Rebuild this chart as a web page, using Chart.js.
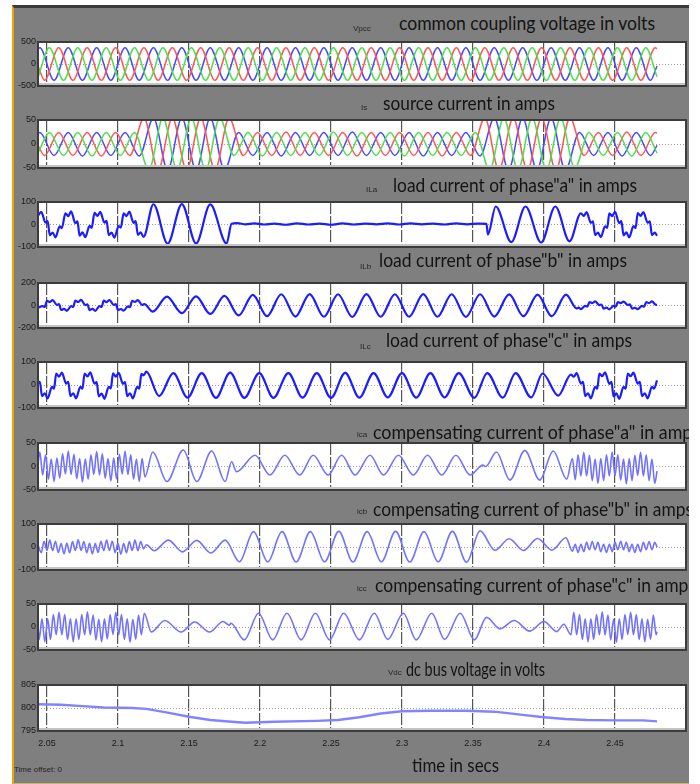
<!DOCTYPE html>
<html><head><meta charset="utf-8">
<script src="https://cdn.jsdelivr.net/npm/chart.js@4.4.0/dist/chart.umd.min.js"></script>
<style>
html,body{margin:0;padding:0;background:#fff;}
#stage{position:relative;width:700px;height:784px;overflow:hidden;background:#fff;}
#panel{position:absolute;left:12px;top:5px;width:677px;height:779px;background:#7f7f7f;border-left:2px solid #e9a900;border-top:3px solid #3b3b3b;border-bottom:1px solid #c9b36a;box-sizing:border-box;}
#clip{position:absolute;left:0;top:0;width:689px;height:784px;overflow:hidden;}
canvas{position:absolute;left:0;}
.ttl{position:absolute;white-space:nowrap;font-family:Lato,'Open Sans',sans-serif;font-size:20px;color:#141414;transform-origin:0 0;line-height:24px;}
.sml{position:absolute;white-space:nowrap;font-family:'Liberation Sans Narrow','Liberation Sans',sans-serif;font-size:8px;color:#262626;line-height:10px;}
</style></head>
<body>
<div id="stage"><div id="panel"></div><div id="clip"></div></div>
<script>
// ---- axis data (time in ms after 2 s) ----
const X_MIN = 43.7, X_MAX = 500;
const xTickPos = [50,100,150,200,250,300,350,400,450];
const xTickLabels = ['2.05','2.1','2.15','2.2','2.25','2.3','2.35','2.4','2.45'];
const yTicksVpcc = [-500,0,500];
const yTicksIs = [-50,0,50];
const yTicksILa = [-100,0,100];
const yTicksILb = [-200,0,200];
const yTicksILc = [-100,0,100];
const yTicksIca = [-50,0,50];
const yTicksIcb = [-100,0,100];
const yTicksIcc = [-50,0,50];
const yTicksVdc = [795,800,805];

// ---- series: flat [t(ms), value, ...] read at the extremes of each wave ----
const vpccA = [43.7,340, 45,372, 55,-368, 65,370, 75,-370, 85,372, 95,-368, 105,370, 115,-370, 125,368, 135,-372, 145,370, 155,-370, 165,372, 175,-368, 185,370, 195,-370, 205,368, 215,-372, 225,370, 235,-370, 245,372, 255,-368, 265,370, 275,-370, 285,370, 295,-372, 305,368, 315,-370, 325,370, 335,-370, 345,372, 355,-368, 365,370, 375,-370, 385,368, 395,-372, 405,370, 415,-370, 425,372, 435,-368, 445,370, 455,-370, 465,370, 475,-372, 479.6,-45];
const vpccB = [43.7,-300, 51.7,370, 61.7,-370, 71.7,372, 81.7,-368, 91.7,370, 101.7,-370, 111.7,368, 121.7,-372, 131.7,370, 141.7,-370, 151.7,372, 161.7,-368, 171.7,370, 181.7,-370, 191.7,368, 201.7,-372, 211.7,370, 221.7,-370, 231.7,372, 241.7,-368, 251.7,370, 261.7,-370, 271.7,370, 281.7,-372, 291.7,368, 301.7,-370, 311.7,370, 321.7,-370, 331.7,372, 341.7,-368, 351.7,370, 361.7,-370, 371.7,368, 381.7,-372, 391.7,370, 401.7,-370, 411.7,372, 421.7,-368, 431.7,370, 441.7,-370, 451.7,370, 461.7,-372, 471.7,368, 479.6,-290];
const vpccC = [43.7,-45, 48.3,-370, 58.3,370, 68.3,-372, 78.3,368, 88.3,-370, 98.3,370, 108.3,-370, 118.3,372, 128.3,-368, 138.3,370, 148.3,-370, 158.3,368, 168.3,-372, 178.3,370, 188.3,-370, 198.3,372, 208.3,-368, 218.3,370, 228.3,-370, 238.3,370, 248.3,-372, 258.3,368, 268.3,-370, 278.3,370, 288.3,-370, 298.3,372, 308.3,-368, 318.3,370, 328.3,-370, 338.3,368, 348.3,-372, 358.3,370, 368.3,-370, 378.3,372, 388.3,-368, 398.3,370, 408.3,-370, 418.3,370, 428.3,-372, 438.3,368, 448.3,-370, 458.3,370, 468.3,-370, 478.3,372, 479.6,345];

const isA = [43.7,22, 45,24, 55,-24, 65,24, 75,-25, 85,24, 95,-24, 105,24, 115,-25, 125,54, 135,-54, 145,54, 155,-54, 165,54, 175,-54, 185,24, 195,-24, 205,24, 215,-25, 225,24, 235,-24, 245,24, 255,-24, 265,25, 275,-24, 285,24, 295,-24, 305,24, 315,-25, 325,24, 335,-24, 345,24, 355,-25, 365,54, 375,-54, 385,54, 395,-54, 405,54, 415,-54, 425,24, 435,-24, 445,24, 455,-25, 465,24, 475,-24, 479.6,-3];
const isB = [43.7,-19, 51.7,24, 61.7,-24, 71.7,24, 81.7,-25, 91.7,24, 101.7,-24, 111.7,24, 121.7,-54, 131.7,54, 141.7,-54, 151.7,54, 161.7,-54, 171.7,54, 181.7,-24, 191.7,24, 201.7,-25, 211.7,24, 221.7,-24, 231.7,24, 241.7,-24, 251.7,25, 261.7,-24, 271.7,24, 281.7,-24, 291.7,24, 301.7,-25, 311.7,24, 321.7,-24, 331.7,24, 341.7,-24, 351.7,24, 361.7,-54, 371.7,54, 381.7,-54, 391.7,54, 401.7,-54, 411.7,54, 421.7,-50, 431.7,24, 441.7,-24, 451.7,24, 461.7,-25, 471.7,24, 479.6,-19];
const isC = [43.7,-3, 48.3,-24, 58.3,24, 68.3,-24, 78.3,24, 88.3,-25, 98.3,24, 108.3,-24, 118.3,54, 128.3,-54, 138.3,54, 148.3,-54, 158.3,54, 168.3,-54, 178.3,54, 188.3,-24, 198.3,24, 208.3,-24, 218.3,25, 228.3,-24, 238.3,24, 248.3,-24, 258.3,24, 268.3,-25, 278.3,24, 288.3,-24, 298.3,24, 308.3,-24, 318.3,24, 328.3,-25, 338.3,24, 348.3,-24, 358.3,54, 368.3,-54, 378.3,54, 388.3,-54, 398.3,54, 408.3,-54, 418.3,54, 428.3,-24, 438.3,24, 448.3,-24, 458.3,25, 468.3,-24, 478.3,24, 479.6,23];

const iLa = [43.7,40, 46,56, 49,8, 50.5,15, 52,-48, 54,-36, 56,-57, 59,-8, 60.5,-16, 63,50, 65,37, 67,58, 70,6, 71.5,14, 73,-50, 75,-35, 77,-56, 80,-6, 81.5,-15, 83.5,52, 85.5,38, 87.5,56, 90.5,8, 92,16, 93.5,-47, 95.5,-36, 97.5,-58, 100.5,-7, 102,-14, 104,50, 106,37, 108,57, 111,7, 112.5,15, 114,-46, 116,-35, 118,-55, 125,90, 135,-85, 145,91, 155,-84, 165,89, 176.5,-84, 180,3, 184,6, 190,1, 196,5, 203,0, 210,4, 218,-1, 226,5, 234,0, 242,4, 250,-1, 258,5, 266,0, 274,4, 282,1, 290,5, 298,0, 306,5, 314,1, 322,4, 330,0, 338,5, 346,1, 354,4, 359.5,3, 360.5,-45, 366,80, 377,-78, 387,80, 398,-80, 408,80, 418,-75, 426,50, 428,38, 430,55, 433,7, 434.5,14, 436,-47, 438,-36, 440,-56, 443,-8, 444.5,-15, 446,50, 448,37, 450,56, 453,6, 454.5,15, 456,-48, 458,-35, 460,-57, 463,-7, 464.5,-16, 466,51, 468,38, 470,55, 473,8, 474.5,14, 476,-47, 478,-36, 479.6,-50];
const iLb = [43.7,-20, 47,-5, 48.5,-12, 50,42, 52,30, 54,48, 57,5, 58.5,12, 60,-40, 62,-30, 64,-47, 67,-6, 68.5,-13, 70,44, 72,31, 74,50, 77,4, 78.5,11, 80,-42, 82,-29, 84,-48, 87,-5, 88.5,-12, 90,43, 92,30, 94,49, 97,6, 98.5,13, 100,-41, 102,-31, 104,-46, 107,-7, 108.5,-14, 110,42, 112,31, 114,48, 117,5, 118.5,12, 124.5,-55, 134.5,78, 145,-68, 155,82, 165,-75, 175,85, 185,-88, 195,95, 205,-95, 215,100, 225,-98, 235,102, 245,-100, 255,100, 265,-102, 275,102, 285,-100, 295,100, 305,-100, 315,102, 325,-100, 335,100, 345,-102, 355,100, 365,-98, 375.5,98, 385.5,-95, 395.5,96, 405.5,-95, 415.5,97, 423,-25, 424.5,-18, 426,-33, 429,-4, 430.5,-10, 432,30, 434,22, 436,36, 439,4, 440.5,9, 442,-28, 444,-19, 446,-34, 449,-4, 450.5,-11, 452,31, 454,22, 456,35, 459,5, 460.5,10, 462,-27, 464,-20, 466,-33, 469,-3, 470.5,-10, 472,30, 474,21, 476,36, 479,5, 479.6,6];
const iLc = [43.7,8, 45,14, 46.5,-48, 48.5,-36, 50.5,-58, 53.5,-8, 55,-16, 56.5,50, 58.5,36, 60.5,54, 63.5,6, 65,14, 66.5,-48, 68.5,-36, 70.5,-58, 73.5,-8, 75,-16, 76.5,50, 78.5,37, 80.5,55, 83.5,6, 85,13, 86.5,-50, 88.5,-37, 90.5,-60, 93.5,-8, 95,-15, 96.5,51, 98.5,36, 100.5,53, 103.5,5, 105,13, 106.5,-48, 108.5,-36, 110.5,-58, 113.5,-8, 115,-16, 116.5,48, 118,42, 120,58, 129,-48, 139,52, 149,-55, 159,52, 169,-56, 179,54, 189,-56, 199.5,52, 209.5,-56, 220,52, 230,-55, 240,52, 250,-56, 260,53, 270,-55, 280,52, 290,-54, 300,52, 310,-55, 320,52, 330,-54, 340,52, 351,-56, 360,52, 371,-55, 380,52, 391,-54, 399,50, 410,-46, 419,45, 421,36, 423,52, 426,6, 427.5,14, 429,-48, 431,-36, 433,-58, 436,-8, 437.5,-16, 439,50, 441,38, 443,55, 446,5, 447.5,14, 449,-50, 451,-36, 453,-60, 456,-8, 457.5,-16, 459,50, 461,38, 463,54, 466,6, 467.5,14, 469,-48, 471,-36, 473,-58, 476,-8, 477.5,-16, 479.6,20];

const ica = [43.7,5, 45,31, 47,-18, 49,25, 51,-27, 53,16, 55,-32, 57,18, 59,-25, 61,27, 63,-16, 65,33, 67,-17, 69,26, 71,-26, 73,17, 75,-33, 77,16, 79,-27, 81,25, 83,-17, 85,32, 87,-18, 89,27, 91,-25, 93,17, 95,-31, 97,18, 99,-26, 101,26, 103,-16, 105,33, 107,-17, 109,25, 111,-27, 113,16, 115,-32, 117,17, 119,-22, 124.5,31, 134.5,-32, 146,35, 155.5,-32, 166,33, 175.5,-32, 180,10, 183.5,-11, 196.5,24, 207,-18, 217.5,24, 228,-18, 237.5,24, 248,-18, 257.5,24, 267,-18, 277.5,24, 287,-18, 297.5,24, 308,-18, 318,24, 328,-18, 338,24, 348,-18, 357,3, 359,0, 366.5,31, 376,-29, 386.5,34, 397,-29, 406.5,33, 416,-27, 420,17, 422,-28, 424,25, 426,-20, 428,30, 430,-20, 432,24, 434,-30, 436,16, 438,-36, 440,17, 442,-30, 444,25, 446,-20, 448,31, 450,-19, 452,25, 454,-29, 456,16, 458,-37, 460,17, 462,-30, 464,24, 466,-19, 468,30, 470,-20, 472,25, 474,-30, 476,16, 478,-36, 479.6,-10];
const icb = [43.7,10, 46,-24, 48,25, 50,-15, 52,30, 54,-16, 56,25, 58,-24, 60,15, 62,-30, 64,16, 66,-25, 68,24, 70,-15, 72,31, 74,-15, 76,24, 78,-25, 80,16, 82,-30, 84,15, 86,-24, 88,25, 90,-16, 92,30, 94,-15, 96,25, 98,-24, 100,16, 102,-31, 104,15, 106,-25, 108,24, 110,-15, 112,30, 114,-16, 116,24, 118,-8, 120,10, 125.5,-16, 135.5,30, 145.5,-21, 155.5,29, 165.5,-26, 175.5,30, 185.5,-64, 195.5,67, 205.5,-64, 215.5,67, 225.5,-65, 235.5,67, 245.5,-64, 255.5,68, 265.5,-65, 275.5,67, 285.5,-64, 295.5,68, 305.5,-65, 315.5,67, 325.5,-64, 335.5,68, 345.5,-66, 355,70, 365.5,-14, 375.5,36, 385.5,-15, 395.5,37, 405.5,-14, 415.5,40, 420,-18, 422,12, 424,-24, 426,12, 428,-20, 430,20, 432,-12, 434,24, 436,-12, 438,20, 440,-20, 442,12, 444,-24, 446,12, 448,-20, 450,20, 452,-12, 454,25, 456,-12, 458,20, 460,-20, 462,12, 464,-24, 466,12, 468,-20, 470,20, 472,-12, 474,24, 476,-12, 478,20, 479.6,0];
const icc = [43.7,0, 44.5,-27, 46.5,18, 48.5,-32, 50.5,18, 52.5,-27, 54.5,27, 56.5,-17, 58.5,32, 60.5,-17, 62.5,27, 64.5,-27, 66.5,18, 68.5,-32, 70.5,18, 72.5,-27, 74.5,27, 76.5,-17, 78.5,33, 80.5,-17, 82.5,26, 84.5,-28, 86.5,17, 88.5,-32, 90.5,18, 92.5,-26, 94.5,27, 96.5,-16, 98.5,32, 100.5,-17, 102.5,27, 104.5,-27, 106.5,18, 108.5,-33, 110.5,17, 112.5,-27, 114.5,26, 116.5,-17, 118.5,30, 123.5,-11, 133,14, 144.5,-11, 154,11, 164.5,-11, 174,12, 178.5,4, 179.5,8, 189,-28, 199,30, 209,-28, 219,30, 229,-28, 239,30, 249,-28, 259,30, 270,-28, 280.5,30, 290,-27, 301,30, 310,-28, 321,30, 330,-27, 341,30, 351,-28, 359.5,21, 369,-4, 379,14, 390,-9, 400,12, 409,-10, 414,6, 419,-17, 421,32, 423,-17, 425,27, 427,-27, 429,18, 431,-32, 433,18, 435,-27, 437,27, 439,-17, 441,33, 443,-17, 445,26, 447,-28, 449,17, 451,-33, 453,18, 455,-27, 457,27, 459,-16, 461,32, 463,-17, 465,27, 467,-27, 469,18, 471,-32, 473,17, 475,-27, 477,26, 479,-17, 479.6,-10];

const vdc = [43.7,800.8, 60,800.7, 75,800.4, 90,800.1, 110,800, 120,799.8, 135,799, 150,798.1, 165,797.4, 180,797, 190,796.8, 210,797, 240,797.2, 255,797.4, 270,798, 285,798.8, 300,799.3, 320,799.4, 345,799.4, 365,799.2, 385,798.5, 400,798, 415,797.6, 430,797.4, 450,797.3, 470,797.3, 479.6,797.1];

// ---- texts ----
const titles = [
 ['common coupling voltage in volts',399,655,30],
 ['source current in amps',383,555,110],
 ['load current of phase"a" in amps',393,637,192],
 ['load current of phase"b" in amps',379,627,267],
 ['load current of phase"c" in amps',386,632,347],
 ['compensating current of phase"a" in amps',373,700,439],
 ['compensating current of phase"b" in amps',373,693,516],
 ['compensating current of phase"c" in amps',375,696,592],
 ['dc bus voltage in volts',406,545,676],
 ['time in secs',412,499,772]
];
const smallLabels = [
 ['Vpcc',353,31],['Is',361,110],['ILa',366,192],['ILb',360,269],['ILc',360,349],
 ['ica',357,437],['icb',357,514],['icc',357,591],['Vdc',388,675],['Time offset:  0',14,772]
];

// ---- styles / layout ----
const C_BLUE='#4848ff', C_GREEN='#4ede4e', C_RED='#ff5656', C_LOAD='#1c1cff', C_COMP='#7272ff', C_DC='#8383ff';
const panels = [
 {top:42,bottom:86,yt:yTicksVpcc,w:1.5,series:[[vpccB,C_GREEN],[vpccC,C_RED],[vpccA,C_BLUE]]},
 {top:120,bottom:168,yt:yTicksIs,w:1.5,series:[[isB,C_GREEN],[isC,C_RED],[isA,C_BLUE]]},
 {top:202,bottom:247,yt:yTicksILa,w:2.2,series:[[iLa,C_LOAD]]},
 {top:283,bottom:328,yt:yTicksILb,w:2.2,series:[[iLb,C_LOAD]]},
 {top:362,bottom:408,yt:yTicksILc,w:2.2,series:[[iLc,C_LOAD]]},
 {top:443,bottom:490,yt:yTicksIca,w:1.6,series:[[ica,C_COMP]]},
 {top:524,bottom:570,yt:yTicksIcb,w:1.6,series:[[icb,C_COMP]]},
 {top:604,bottom:650,yt:yTicksIcc,w:1.6,series:[[icc,C_COMP]]},
 {top:685,bottom:731,yt:yTicksVdc,w:2.4,linear:true,series:[[vdc,C_DC]]}
];
const TICK_FONT = {family:"'Liberation Sans Narrow','Liberation Sans',sans-serif",size:9};

function pts(a){const r=[];for(let i=0;i<a.length;i+=2)r.push({x:a[i],y:a[i+1]});return r;}

const boxPlugin = {
 id:'box',
 beforeDraw(c){const a=c.chartArea,ctx=c.ctx;ctx.save();ctx.fillStyle='#ffffff';ctx.fillRect(a.left,a.top,a.right-a.left,a.bottom-a.top);ctx.restore();},
 afterDraw(c){const a=c.chartArea,ctx=c.ctx;ctx.save();
   ctx.strokeStyle='#c4c4c4';ctx.lineWidth=2;ctx.beginPath();ctx.moveTo(a.left+1,a.bottom-2);ctx.lineTo(a.right-1,a.bottom-2);ctx.stroke();
   ctx.strokeStyle='#3c3c3c';ctx.lineWidth=2;ctx.strokeRect(a.left,a.top,a.right-a.left,a.bottom-a.top);ctx.restore();}
};

const clip = document.getElementById('clip');
panels.forEach((p,i)=>{
 const last = i===panels.length-1;
 const padT=8, xH= last?24:0, padB= last?0:8;
 const h=(p.bottom-p.top)+padT+padB+xH;
 const cv=document.createElement('canvas');
 cv.width=700;cv.height=h;cv.style.width='700px';cv.style.height=h+'px';cv.style.top=(p.top-padT)+'px';
 clip.appendChild(cv);
 new Chart(cv,{
  type:'line',
  data:{datasets:p.series.map(([d,col])=>({data:pts(d),borderColor:col,borderWidth:p.w,pointRadius:0,fill:false,
    cubicInterpolationMode:p.linear?'default':'monotone',tension:0}))},
  options:{
   responsive:false,animation:false,events:[],
   layout:{padding:{top:padT,bottom:padB,left:0,right:14}},
   plugins:{legend:{display:false},tooltip:{enabled:false}},
   scales:{
    x:{type:'linear',min:X_MIN,max:X_MAX,
     afterBuildTicks:s=>{s.ticks=xTickPos.map(v=>({value:v}));},
     afterFit:s=>{s.height=xH;},
     ticks:{display:last,padding:7,autoSkip:false,maxRotation:0,font:TICK_FONT,color:'#1a1a1a',callback:(v,idx)=>xTickLabels[idx]},
     grid:{color:'#555555',lineWidth:1.2,drawTicks:false},
     border:{display:false,dash:[12,2]}},
    y:{type:'linear',min:p.yt[0],max:p.yt[2],
     afterBuildTicks:s=>{s.ticks=p.yt.map(v=>({value:v}));},
     afterFit:s=>{s.width=38;},
     ticks:{padding:2,font:TICK_FONT,color:'#1a1a1a',callback:v=>String(v)},
     grid:{color:ctx=>(ctx.tick&&ctx.tick.value===p.yt[1])?'#a0a0a0':'rgba(0,0,0,0)',lineWidth:1,drawTicks:false},
     border:{display:false,dash:[1,2]}}
   }
  },
  plugins:[boxPlugin]
 });
});

function place(el,left,baseline){
 el.style.left=left+'px';el.style.top='0px';
 const probe=document.createElement('span');
 probe.style.cssText='display:inline-block;width:0;height:0;vertical-align:baseline;';
 el.appendChild(probe);
 const off=probe.offsetTop;
 el.style.top=(baseline-off)+'px';
}
titles.forEach(([t,l,r,b])=>{
 const d=document.createElement('div');d.className='ttl';d.textContent=t;clip.appendChild(d);
 place(d,l,b);
 const w=d.getBoundingClientRect().width;
 d.style.transform='scaleX('+((r-l)/w).toFixed(4)+')';
});
smallLabels.forEach(([t,l,b])=>{
 const d=document.createElement('div');d.className='sml';d.textContent=t;clip.appendChild(d);
 place(d,l,b);
});
</script>
</body></html>
